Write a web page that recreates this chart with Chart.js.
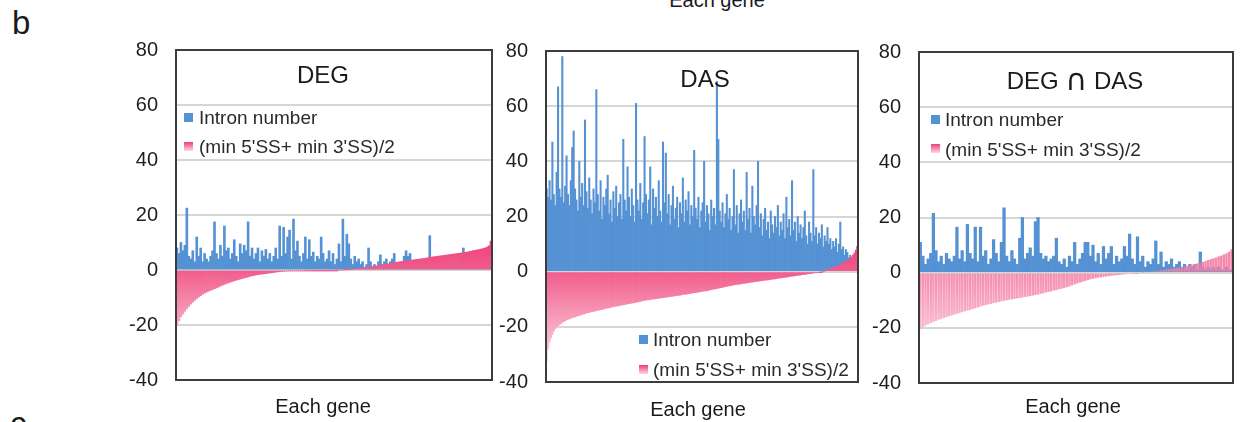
<!DOCTYPE html>
<html>
<head>
<meta charset="utf-8">
<script src="https://cdn.jsdelivr.net/npm/chart.js@4.4.1/dist/chart.umd.min.js"></script>
<style>
  body { margin: 0; width: 1245px; height: 422px; position: relative; overflow: hidden; background: #fff;
         font-family: 'Liberation Sans', Arial, sans-serif; color: #1a1a1a; }
  canvas { position: absolute; top: 0; }
  .txt { position: absolute; white-space: nowrap; line-height: 1; }
  .ttl { font-size: 24px; transform: translate(-50%, -50%); }
  .cap { font-family: 'DejaVu Sans', sans-serif; font-size: 30px; display: inline-block; transform: translateY(1px); }
  .xt { font-size: 20px; transform: translate(-50%, -50%); }
  .leg { font-size: 19px; transform: translateY(-50%); color: #2a2a2a; }
  .sw { position: absolute; width: 9px; height: 9px; }
</style>
</head>
<body>
<div class="txt" style="left:12px; top:6px; font-size:33px;">b</div>
<div class="txt" style="left:717px; top:-10px; font-size:20px; transform:translateX(-50%);">Each gene</div>
<div class="txt" style="left:10px; top:407px; font-size:33px;">c</div>

<canvas id="degChart" width="400" height="422" style="left:100px"></canvas>
<canvas id="dasChart" width="400" height="422" style="left:470px"></canvas>
<canvas id="bothChart" width="400" height="422" style="left:843px"></canvas>

<div class="txt ttl" style="left:323px; top:75px;">DEG</div>
<div class="txt ttl" style="left:705px; top:79px;">DAS</div>
<div class="txt ttl" style="left:1075px; top:79px;">DEG <span class="cap">∩</span> DAS</div>

<div class="sw blue" style="left:184px; top:113px;"></div>
<div class="txt leg" style="left:199px; top:117px;">Intron number</div>
<div class="sw pink" style="left:184px; top:142px;"></div>
<div class="txt leg" style="left:199px; top:146px;">(min 5'SS+ min 3'SS)/2</div>

<div class="sw blue" style="left:639px; top:335px;"></div>
<div class="txt leg" style="left:653px; top:339px;">Intron number</div>
<div class="sw pink" style="left:639px; top:365px;"></div>
<div class="txt leg" style="left:653px; top:369px;">(min 5'SS+ min 3'SS)/2</div>

<div class="sw blue" style="left:931px; top:115px;"></div>
<div class="txt leg" style="left:945px; top:119px;">Intron number</div>
<div class="sw pink" style="left:931px; top:144px;"></div>
<div class="txt leg" style="left:945px; top:149px;">(min 5'SS+ min 3'SS)/2</div>

<div class="txt xt" style="left:323px; top:406px;">Each gene</div>
<div class="txt xt" style="left:698px; top:409px;">Each gene</div>
<div class="txt xt" style="left:1073px; top:406px;">Each gene</div>

<script>
// values, one bar per gene
const degIntron = [
	8, 6, 10, 7, 9, 22.5, 5, 4, 7, 3,
	12, 5, 8, 3, 6, 4, 3, 5, 7, 17.5,
	6, 4, 9, 5, 16, 7, 8, 4, 6, 11,
	5, 3, 9.5, 6, 9, 7, 17.5, 5, 8, 4,
	6, 8, 3, 7, 5, 7.5, 4, 6, 3, 5,
	8, 4, 16, 5, 15.5, 6, 12, 14.5, 4, 18.5,
	7, 10.5, 5, 3, 6, 12, 4, 11, 5, 6.5,
	3, 5, 4, 12, 6, 3, 4, 7, 3, 6,
	2, 4, 9.5, 3, 18.5, 5, 13, 9.5, 4, 2,
	5, 3, 4, 2, 3, 1, 2, 8, 3, 1,
	2, 1, 3, 5.5, 2, 3, 4, 2, 3, 4,
	6, 2, 1, 2, 3, 5, 7, 5, 6, 3,
	2, 1, 3, 2, 1, 2, 3, 1, 12.5, 2,
	1, 3, 2, 1, 2, 3, 1, 2, 1, 3,
	2, 1, 2, 3, 1, 8, 2, 1, 3, 2,
	1, 2, 1, 3, 2, 1, 2, 1, 2, 1
];
const degSS = [
	-20, -18.5, -17, -16, -15, -14, -13.2, -12.4, -11.7, -11,
	-10.4, -9.8, -9.3, -8.8, -8.4, -8.0, -7.7, -7.4, -7.1, -6.8,
	-6.5, -6.2, -5.8, -5.5, -5.2, -4.9, -4.7, -4.4, -4.2, -3.9,
	-3.7, -3.5, -3.3, -3.1, -2.9, -2.7, -2.5, -2.3, -2.1, -2.0,
	-1.8, -1.7, -1.6, -1.5, -1.4, -1.3, -1.2, -1.1, -1.0, -0.9,
	-0.8, -0.7, -0.6, -0.5, -0.5, -0.4, -0.4, -0.3, -0.3, -0.3,
	-0.3, -0.3, -0.3, -0.25, -0.25, -0.2, -0.2, -0.2, -0.2, -0.15,
	-0.15, -0.15, -0.1, -0.1, -0.1, -0.1, -0.1, -0.05, -0.05, -0.05,
	-0.05, -0.05, 0, 0, 0, 0.05, 0.1, 0.15, 0.2, 0.3,
	0.4, 0.5, 0.6, 0.7, 0.8, 0.9, 1.0, 1.1, 1.2, 1.3,
	1.4, 1.5, 1.6, 1.7, 1.85, 2.0, 2.1, 2.25, 2.4, 2.5,
	2.65, 2.8, 2.9, 3.0, 3.1, 3.2, 3.3, 3.4, 3.5, 3.6,
	3.7, 3.8, 3.9, 4.0, 4.1, 4.2, 4.3, 4.45, 4.6, 4.7,
	4.8, 4.9, 5.0, 5.1, 5.2, 5.3, 5.4, 5.5, 5.6, 5.7,
	5.8, 5.9, 6.0, 6.1, 6.2, 6.3, 6.4, 6.55, 6.7, 6.85,
	7.0, 7.15, 7.3, 7.45, 7.6, 7.8, 8.0, 8.3, 8.8, 10.5
];

const dasIntron = [
	30, 27, 33, 26, 47, 28, 24, 36, 67, 30,
	27, 78, 25, 31, 42, 28, 24, 33, 45, 51,
	30, 26, 22, 40, 27, 32, 24, 55, 29, 23,
	34, 26, 21, 30, 25, 66, 28, 22, 33, 19,
	27, 24, 30, 35, 21, 26, 18, 29, 23, 31,
	20, 25, 28, 19, 48, 26, 22, 38, 27, 20,
	30, 24, 18, 61, 26, 22, 32, 19, 25, 49,
	28, 21, 26, 38, 17, 30, 23, 27, 20, 33,
	22, 18, 47, 25, 43, 21, 28, 17, 24, 31,
	19, 23, 27, 16, 25, 21, 34, 18, 26, 22,
	29, 17, 24, 20, 44, 23, 19, 27, 16, 22,
	25, 40, 18, 24, 21, 15, 26, 20, 23, 17,
	69, 48, 22, 18, 25, 16, 21, 28, 19, 23,
	15, 20, 37, 17, 24, 14, 21, 26, 18, 22,
	15, 36, 19, 23, 14, 31, 20, 17, 24, 40,
	16, 21, 13, 19, 23, 15, 18, 12, 22, 17,
	14, 20, 16, 24, 13, 18, 15, 21, 12, 27,
	16, 19, 13, 33, 15, 18, 11, 20, 14, 17,
	12, 16, 22, 13, 10, 18, 14, 11, 37, 13,
	16, 10, 14, 12, 17, 9, 13, 11, 16, 10,
	12, 8, 11, 9, 12, 7, 10, 18, 8, 9,
	6, 8, 7, 5, 6, 4, 3, 4, 2, 3
];
const dasSS = [
	-32.6, -28, -25.5, -24, -22.8, -21.6, -20.7, -20, -19.6, -19.2,
	-18.8, -18.4, -18.1, -17.8, -17.5, -17.3, -17.1, -16.9, -16.7, -16.5,
	-16.4, -16.2, -16.0, -15.9, -15.7, -15.5, -15.3, -15.2, -15.0, -14.9,
	-14.8, -14.6, -14.5, -14.4, -14.3, -14.1, -14.0, -13.9, -13.8, -13.7,
	-13.6, -13.4, -13.3, -13.2, -13.1, -13.0, -12.8, -12.7, -12.6, -12.5,
	-12.4, -12.3, -12.2, -12.1, -12.0, -11.9, -11.8, -11.7, -11.6, -11.5,
	-11.4, -11.3, -11.2, -11.1, -11.0, -10.9, -10.8, -10.6, -10.5, -10.4,
	-10.3, -10.2, -10.2, -10.1, -10.0, -9.9, -9.9, -9.8, -9.7, -9.6,
	-9.6, -9.5, -9.4, -9.3, -9.3, -9.2, -9.1, -9.0, -9.0, -8.9,
	-8.8, -8.7, -8.6, -8.6, -8.5, -8.4, -8.3, -8.2, -8.2, -8.1,
	-8.0, -7.9, -7.8, -7.7, -7.6, -7.6, -7.5, -7.4, -7.3, -7.2,
	-7.1, -7.0, -7.0, -6.9, -6.8, -6.6, -6.5, -6.4, -6.3, -6.2,
	-6.1, -6.0, -5.9, -5.8, -5.7, -5.5, -5.4, -5.3, -5.2, -5.1,
	-5.0, -4.9, -4.8, -4.7, -4.6, -4.6, -4.5, -4.4, -4.3, -4.2,
	-4.2, -4.1, -4.0, -3.9, -3.8, -3.8, -3.7, -3.6, -3.5, -3.5,
	-3.4, -3.3, -3.2, -3.2, -3.1, -3.0, -3.0, -2.9, -2.8, -2.7,
	-2.7, -2.6, -2.5, -2.4, -2.3, -2.3, -2.2, -2.1, -2.0, -2.0,
	-1.9, -1.8, -1.7, -1.6, -1.6, -1.5, -1.4, -1.3, -1.3, -1.2,
	-1.1, -1.0, -1.0, -0.9, -0.8, -0.7, -0.7, -0.6, -0.5, -0.4,
	-0.4, -0.3, -0.2, -0.1, -0.1, 0, 0.2, 0.4, 0.6, 0.8,
	1.0, 1.2, 1.4, 1.6, 1.8, 2.0, 2.2, 2.4, 2.7, 3.0,
	3.3, 3.7, 4.1, 4.5, 4.8, 5.3, 6.0, 6.8, 7.8, 9.2
];

const bothIntron = [
	11, 6, 3, 5, 7, 21.5, 8, 4, 6, 3,
	7, 5, 4, 6, 16.5, 5, 8, 4, 17.5, 7,
	5, 16.5, 4, 16.5, 6, 8, 3, 5, 12, 7,
	4, 11, 23.5, 6, 4, 8, 5, 3, 12.5, 20,
	5, 7, 9, 6, 18.5, 20, 7, 5, 6, 4,
	5, 6, 12.5, 4, 3, 5, 2, 6, 4, 11,
	3, 5, 7, 11, 11, 6, 10, 4, 7, 3,
	9.5, 5, 7, 9.5, 3, 6, 4, 5, 9.5, 6,
	14, 5, 3, 13, 4, 6, 2, 4, 3, 5,
	11.5, 3, 7.5, 2, 4, 3, 5, 2, 3, 4,
	2, 3, 1, 3, 2, 3, 1, 7.5, 2, 1,
	2, 1, 2, 1, 2, 1, 1, 2, 1, 1
];
const bothSS = [
	-20.5, -19.8, -19.2, -18.7, -18.3, -17.9, -17.5, -17.1, -16.8, -16.4,
	-16.1, -15.8, -15.5, -15.2, -14.9, -14.6, -14.3, -14.0, -13.7, -13.5,
	-13.2, -12.9, -12.6, -12.3, -12.0, -11.8, -11.5, -11.3, -11.1, -10.9,
	-10.6, -10.4, -10.2, -10.0, -9.8, -9.7, -9.5, -9.3, -9.2, -9.0,
	-8.8, -8.7, -8.5, -8.3, -8.1, -7.9, -7.7, -7.5, -7.2, -7.0,
	-6.8, -6.5, -6.3, -6.0, -5.8, -5.5, -5.3, -5.0, -4.6, -4.2,
	-3.9, -3.6, -3.3, -3.0, -2.7, -2.4, -2.2, -2.0, -1.8, -1.7,
	-1.5, -1.4, -1.3, -1.1, -1.0, -0.9, -0.8, -0.7, -0.6, -0.5,
	-0.4, -0.3, -0.2, -0.1, 0, 0.1, 0.2, 0.3, 0.4, 0.5,
	0.6, 0.7, 0.8, 1.0, 1.1, 1.3, 1.4, 1.6, 1.7, 1.9,
	2.0, 2.2, 2.4, 2.6, 2.9, 3.1, 3.4, 3.6, 3.9, 4.2,
	4.6, 4.9, 5.2, 5.5, 5.9, 6.2, 6.6, 7.0, 7.6, 8.5
];

const seriesNames = ['Intron number', "(min 5'SS+ min 3'SS)/2"];
const yMin = -40, yMax = 80, yStep = 20;

const blueColor = '#5592d4';
const pinkStops = [[238, 62, 120, 1], [241, 92, 140, 1], [246, 150, 180, 1], [253, 215, 226, 1]];
const paleStops = [[242, 105, 150, 0.85], [244, 128, 165, 0.9], [247, 165, 192, 0.9], [252, 214, 226, 0.9]];

function rgba(c) {
	return 'rgba(' + c.join(',') + ')';
}

// vertical gradient over the plot: strong pink at the top, fading out towards the bottom
function pinkFill(stops) {
	return function(ctx) {
		const chart = ctx.chart;
		if (!chart.chartArea) return rgba(stops[1]);
		const y = chart.scales.y;
		const top = y.getPixelForValue(12);
		const bottom = y.getPixelForValue(-34);
		const g = chart.ctx.createLinearGradient(0, top, 0, bottom);
		g.addColorStop(0, rgba(stops[0]));
		g.addColorStop(12 / 46, rgba(stops[1]));
		g.addColorStop(27 / 46, rgba(stops[2]));
		g.addColorStop(1, rgba(stops[3]));
		return g;
	};
}

const frame = {
	id: 'frame',
	afterDraw(chart) {
		const {ctx, chartArea: a} = chart;
		ctx.save();
		ctx.strokeStyle = '#3c3c3c';
		ctx.lineWidth = 2;
		ctx.strokeRect(a.left, a.top, a.width, a.height);
		ctx.restore();
	}
};

function createPanel(canvasId, intron, ss, pad, stops, pinkWidth) {
	const ctx = document.getElementById(canvasId).getContext('2d');
	new Chart(ctx, {
		type: 'bar',
		data: {
			labels: intron.map((v, i) => i + 1),
			datasets: [
				{
					label: seriesNames[1],
					data: ss,
					backgroundColor: pinkFill(stops),
					borderWidth: 0,
					grouped: false,
					barPercentage: pinkWidth,
					categoryPercentage: 1,
					order: 1
				},
				{
					label: seriesNames[0],
					data: intron,
					backgroundColor: blueColor,
					borderWidth: 0,
					grouped: false,
					barPercentage: 1,
					categoryPercentage: 1,
					order: 2
				}
			]
		},
		options: {
			responsive: false,
			animation: false,
			layout: { padding: pad },
			plugins: { legend: { display: false }, tooltip: { enabled: false } },
			scales: {
				x: { display: false },
				y: {
					min: yMin,
					max: yMax,
					afterFit: scale => { scale.width = 76; },
					border: { display: false },
					grid: { color: '#d6d6d6', lineWidth: 2, drawTicks: false },
					ticks: {
						stepSize: yStep,
						padding: 18,
						color: '#1e1e1e',
						font: { family: "'Liberation Sans', Arial, sans-serif", size: 20 }
					}
				}
			}
		},
		plugins: [frame]
	});
}

document.querySelectorAll('.sw.blue').forEach(el => { el.style.background = blueColor; });
document.querySelectorAll('.sw.pink').forEach(el => {
	el.style.background = 'linear-gradient(' + rgba(pinkStops[0]) + ',' + rgba(pinkStops[3]) + ')';
});

createPanel('degChart', degIntron, degSS, { left: 0, right: 8, top: 50, bottom: 42 }, pinkStops, 1);
createPanel('dasChart', dasIntron, dasSS, { left: 0, right: 12, top: 51, bottom: 40 }, pinkStops, 1);
createPanel('bothChart', bothIntron, bothSS, { left: 0, right: 10, top: 52, bottom: 39 }, paleStops, 0.92);
</script>
</body>
</html>
